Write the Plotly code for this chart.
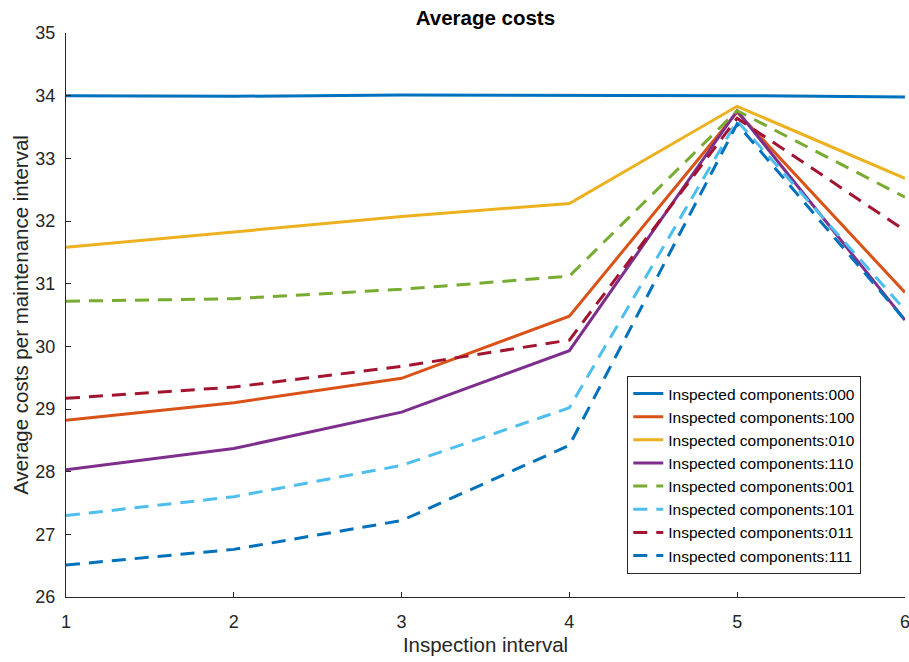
import plotly.graph_objects as go

x = [1, 2, 3, 4, 5, 6]
labels = ["000", "100", "010", "110", "001", "101", "011", "111"]
values = {
    "000": [34.00, 33.99, 34.01, 34.01, 34.00, 33.98],
    "100": [28.82, 29.10, 29.49, 30.48, 33.74, 30.86],
    "010": [31.58, 31.82, 32.07, 32.28, 33.83, 32.68],
    "110": [28.03, 28.37, 28.95, 29.93, 33.76, 30.42],
    "001": [30.72, 30.76, 30.91, 31.12, 33.76, 32.38],
    "101": [27.30, 27.60, 28.10, 29.02, 33.60, 30.58],
    "011": [29.17, 29.35, 29.68, 30.10, 33.64, 31.85],
    "111": [26.51, 26.76, 27.22, 28.42, 33.55, 30.42],
}
colors = ["#0072BD", "#D95319", "#EDB120", "#7E2F8E", "#77AC30", "#4DBEEE", "#A2142F", "#0072BD"]
dashes = ["solid"] * 4 + ["14px,9px"] * 4

FONT = "Liberation Sans, Arial"

fig = go.Figure()
for lab, c, d in zip(labels, colors, dashes):
    fig.add_trace(go.Scatter(
        x=x, y=values[lab], mode="lines",
        name="Inspected components:" + lab,
        line=dict(color=c, width=3, dash=d),
    ))

axis_common = dict(
    showgrid=False, zeroline=False, showline=True, linecolor="#262626", linewidth=1,
    ticks="inside", ticklen=5, tickcolor="#262626",
    tickfont=dict(family=FONT, size=18, color="#262626"),
    mirror=False, ticklabeloverflow="allow", automargin=False,
)
fig.update_layout(
    width=909, height=662,
    margin=dict(l=66, r=4, t=33, b=65, autoexpand=False),
    paper_bgcolor="white", plot_bgcolor="white",
    title=dict(text="<b>Average costs</b>", x=0.534, xanchor="center", y=0.973, yanchor="middle",
               font=dict(family=FONT, size=20.5, color="black")),
    xaxis=dict(range=[1, 6.0005], tickvals=[1, 2, 3, 4, 5, 6], ticklabelstandoff=8, **axis_common,
               title=dict(text="Inspection interval", standoff=7,
                          font=dict(family=FONT, size=20.5, color="#262626"))),
    yaxis=dict(range=[26, 35], tickvals=list(range(26, 36)), ticklabelstandoff=6, **axis_common,
               title=dict(text="Average costs per maintenance interval", standoff=1,
                          font=dict(family=FONT, size=20.5, color="#262626"))),
    legend=dict(x=0.669, y=0.392, xanchor="left", yanchor="top",
                bgcolor="white", bordercolor="#262626", borderwidth=1,
                font=dict(family=FONT, size=15.5, color="black"),
                tracegroupgap=0),
    showlegend=True,
)
fig.write_html("out.html")
